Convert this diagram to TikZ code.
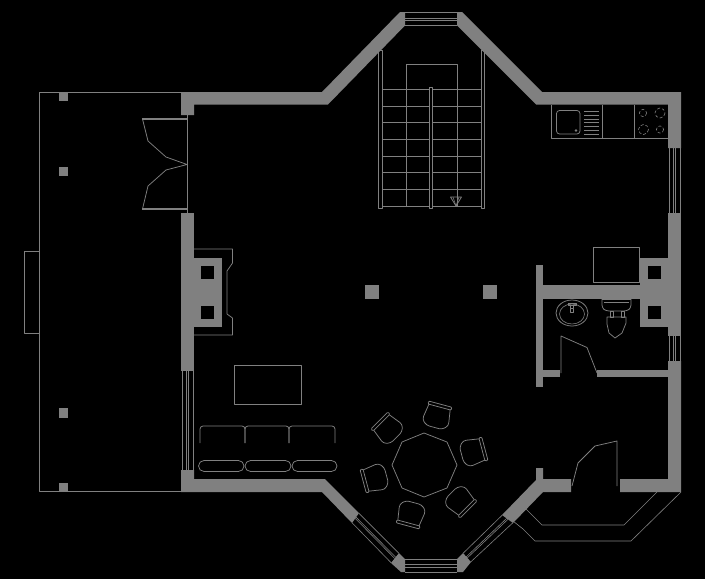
\documentclass[tikz,border=0pt]{standalone}
\usetikzlibrary{calc}
\definecolor{cadgray}{HTML}{808080}
\tikzset{
  wall/.style={fill=cadgray,draw=none},
  hole/.style={fill=black,draw=none},
  thin line/.style={draw=cadgray,line width=0.75pt,line join=round},
  fine line/.style={draw=cadgray,line width=0.6pt,line join=round},
}
\begin{document}
\begin{tikzpicture}[x=1pt,y=-1pt]
\useasboundingbox (0,0) rectangle (705,579);
\fill[black] (0,0) rectangle (705,579);
% ---- walls
\fill[wall] (181,92) -- (322,92) -- (400,12) -- (405,12) -- (405,25.5) -- (328,104.5) -- (194,104.5) -- (194,115) -- (181,115) -- cycle;
\fill[wall] (457,12) -- (462,12) -- (542,92) -- (681,92) -- (681,148) -- (668,148) -- (668,104.5) -- (536,104.5) -- (457,25.5) -- cycle;
\fill[wall] (668,213) -- (681,213) -- (681,336) -- (668,336) -- cycle;
\fill[wall] (668,361) -- (681,361) -- (681,492) -- (620,492) -- (620,479) -- (668,479) -- cycle;
\fill[wall] (181,213) rectangle (194,371);
\fill[wall] (181,470) -- (194,470) -- (194,479) -- (325,479) -- (359,513) -- (352,523) -- (322,492) -- (181,492) -- cycle;
\fill[wall] (399,553) -- (405,559) -- (405,572) -- (401,572) -- (391,563) -- cycle;
\fill[wall] (457,559) -- (463,553) -- (471,562) -- (463,572) -- (457,572) -- cycle;
\fill[wall] (502,515) -- (536,480) -- (536,468) -- (543,468) -- (543,479) -- (571,479) -- (571,492) -- (543,492) -- (513,523) -- cycle;
% interior walls
\fill[wall] (536,265) rectangle (543,387);
\fill[wall] (543,285) rectangle (640,299);
\fill[wall] (543,370) rectangle (560,377);
\fill[wall] (597,370) rectangle (668,377);
\fill[wall] (640,258) rectangle (668,327);
\fill[hole] (648,266) rectangle (661,279);
\fill[hole] (648,306) rectangle (661,319);
% fireplace
\fill[wall] (194,258) rectangle (222,327);
\fill[hole] (201,266) rectangle (214,279);
\fill[hole] (201,306) rectangle (214,319);
\draw[thin line] (194,249) -- (232.5,249) -- (232.5,263) -- (227,271) -- (227,314) -- (232.5,318) -- (232.5,335) -- (194,335);
% columns
\fill[wall] (59,92) rectangle (68,101);
\fill[wall] (59,167) rectangle (68,176);
\fill[wall] (59,408) rectangle (68,418);
\fill[wall] (59,483) rectangle (68,491);
\fill[wall] (365,285) rectangle (379,299);
\fill[wall] (483,285) rectangle (497,299);
% terrace
\draw[fine line] (181,92) -- (39.5,92) -- (39.5,491) -- (181,491);
\draw[fine line] (39.5,251) -- (24,251) -- (24,333) -- (39.5,333);
% ---- windows
\foreach \y in {12.5,18,20,25}{\draw[thin line] (405,\y) -- (457,\y);}
\foreach \x in {669,673,675,680}{\draw[thin line] (\x,148) -- (\x,213);}
\foreach \x in {669,673.5,675.5,680}{\draw[thin line] (\x,336) -- (\x,361);}
\foreach \x in {182,186.5,188.5,193}{\draw[thin line] (\x,371) -- (\x,470);}
\foreach \y in {559.5,564,567,572}{\draw[thin line] (405,\y) -- (457,\y);}
\foreach \t in {0.02,0.42,0.54,0.98}{
  \draw[fine line] ($(359,513)!\t!(352,523)$) -- ($(399,553)!\t!(391,563)$);
  \draw[fine line] ($(502,515)!\t!(513,523)$) -- ($(463,553)!\t!(471,562)$);
}
% ---- terrace door
\draw[thin line] (187,115) -- (187,213);
\draw[cadgray,line width=1.2pt] (142,119) -- (187,119);
\draw[cadgray,line width=1.2pt] (142,209) -- (187,209);
\draw[thin line] (142.5,119) -- (148,141) -- (166,157) -- (187,164.5) -- (166,170) -- (148,186) -- (142.5,209);
% ---- stairs
\draw[thin line] (378,50) rectangle (382,208);
\draw[thin line] (481,50) rectangle (484,208);
\draw[thin line] (429.5,87) rectangle (432.5,208);
\foreach \y in {89,106,122,139,156,172,189,206}{
  \draw[thin line] (382,\y) -- (429.5,\y);
  \draw[thin line] (432.5,\y) -- (481,\y);
}
\draw[thin line] (406,206) -- (406,64) -- (457,64) -- (457,206);
\draw[thin line] (450.5,197) -- (461.5,197) -- (456,206) -- cycle;
\draw[fine line] (453,197) -- (456,206) -- (459,197);
% ---- kitchen
\draw[thin line] (551,104.5) -- (551,138) -- (668,138);
\draw[thin line] (602,104.5) -- (602,138);
\draw[thin line] (634,104.5) -- (634,138);
\draw[thin line,rounded corners=3pt] (556.5,110.5) rectangle (580,134);
\fill[cadgray] (576,130.5) circle (1.3);
\foreach \y in {111,115,119,122.5,126,130,134}{\draw[thin line] (584,\y) -- (599,\y);}
\draw[fine line,densely dashed] (643,113) circle (3.6);
\draw[fine line,densely dashed] (660,113) circle (5);
\draw[fine line,densely dashed] (643.5,129.5) circle (5);
\draw[fine line,densely dashed] (660,129.5) circle (3.6);
% ---- tv / cabinet rectangles
\draw[thin line] (593,247) rectangle (639,282);
\draw[thin line] (234,365) rectangle (301,404);
% ---- bathroom
\draw[thin line] (572,313) ellipse (16 and 13);
\draw[fine line] (572,314) ellipse (12.5 and 10);
\draw[fine line] (568,303) -- (576,303) -- (576,305) -- (568,305) -- cycle;
\draw[fine line] (570.5,305) -- (570.5,308) (573.5,305) -- (573.5,308);
\draw[fine line] (570.5,308) rectangle (573.5,312);
\draw[thin line,rounded corners=3pt] (602,299) -- (602,308) -- (606,311) -- (627,311) -- (631,308) -- (631,299);
\draw[fine line] (604,302.5) -- (629,302.5);
\draw[fine line] (602,299) -- (631,299);
\draw[fine line] (610,311) rectangle (613,317);
\draw[fine line] (621,311) rectangle (624,317);
\draw[thin line] (607,317) -- (626,317) -- (626,323) -- (622,333) -- (615,338) -- (609,333) -- (607,324) -- cycle;
\draw[thin line] (561,373) -- (561,336) -- (587,347.5) -- (597,373);
% ---- entrance
\draw[thin line] (617,486) -- (617,441) -- (595,446) -- (578,463) -- (572,486);
\draw[fine line] (657,492) -- (624,525) -- (542,525) -- (525,508);
\draw[fine line] (681,492) -- (631,541) -- (535,541) -- (523,529) -- (513,521);
% ---- sofa
\draw[thin line,rounded corners=3pt] (200,443) -- (200,426) -- (245,426) -- (245,443);
\draw[thin line,rounded corners=3pt] (245,443) -- (245,426) -- (289,426) -- (289,443);
\draw[thin line,rounded corners=3pt] (289,443) -- (289,426) -- (335,426) -- (335,443);
\draw[thin line,rounded corners=5.5pt] (198.5,460.5) rectangle (244,471.5);
\draw[thin line,rounded corners=5.5pt] (245,460.5) rectangle (291,471.5);
\draw[thin line,rounded corners=5.5pt] (292,460.5) rectangle (337,471.5);
% ---- dining table
\draw[thin line] (424,433) -- (447,442) -- (457,465) -- (447,488) -- (424,497) -- (402,488) -- (392,465) -- (402,442) -- cycle;
\foreach \a in {15,75,135,195,255,315}{
\begin{scope}[shift={(424,465)},rotate=-\a]
  \draw[thin line,rounded corners=1pt] (-12,-63) -- (12,-63) -- (12,-60) -- (-12,-60) -- cycle;
  \draw[thin line,rounded corners=3pt] (-11,-60) -- (-13.5,-44) -- (-8,-39) -- (8,-39) -- (13.5,-44) -- (11,-60);
\end{scope}
}
\end{tikzpicture}
\end{document}
